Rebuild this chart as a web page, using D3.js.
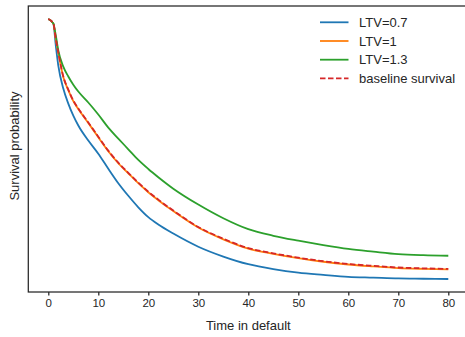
<!DOCTYPE html>
<html><head><meta charset="utf-8">
<script src="https://cdn.jsdelivr.net/npm/d3@7"></script>
<style>html,body{margin:0;padding:0;background:#fff;}svg{display:block;font-family:"Liberation Sans",Arial,sans-serif;}</style>
</head><body><svg id="chart" width="465" height="337"></svg>
<script>
const times = [0,1,1.5,2,3,4,5,6,8,10,12,14,16,18,20,22,25,30,35,40,45,50,55,60,65,70,75,80];
const ltv07 = [1.000,0.984,0.903,0.830,0.746,0.691,0.647,0.611,0.556,0.508,0.453,0.400,0.354,0.312,0.276,0.249,0.216,0.168,0.132,0.104,0.086,0.073,0.065,0.058,0.055,0.052,0.051,0.050];
const ltv1  = [1.000,0.984,0.927,0.876,0.788,0.740,0.700,0.671,0.620,0.568,0.517,0.473,0.436,0.400,0.367,0.338,0.298,0.238,0.195,0.161,0.142,0.126,0.113,0.103,0.096,0.090,0.087,0.085];
const ltv13 = [1.000,0.984,0.940,0.885,0.826,0.790,0.760,0.735,0.695,0.651,0.603,0.563,0.524,0.485,0.452,0.422,0.380,0.322,0.272,0.232,0.208,0.190,0.174,0.160,0.150,0.141,0.137,0.135];
const baseline = [1.000,0.984,0.929,0.878,0.790,0.742,0.702,0.673,0.622,0.570,0.519,0.475,0.438,0.402,0.369,0.340,0.300,0.240,0.197,0.163,0.144,0.128,0.115,0.105,0.098,0.092,0.089,0.087];
const xTicks = [0,10,20,30,40,50,60,70,80];
const seriesNames = ["LTV=0.7","LTV=1","LTV=1.3","baseline survival"];
const seriesColors = ["#1f77b4","#ff7f0e","#2ca02c","#d62728"];

const svg = d3.select("#chart");
const L = 28.3, R = 468.3, T = 6, B = 292;
const x = d3.scaleLinear().domain([-4,84]).range([L,R]);
const y = d3.scaleLinear().domain([0.0025,1.0475]).range([B,T]);

const series = [ltv07, ltv1, ltv13, baseline];
const line = d3.line().x((d,i)=>x(times[i])).y(d=>y(d)).curve(d3.curveMonotoneX);
series.forEach((s,k)=>{
  svg.append("path").datum(s).attr("d",line).attr("fill","none")
    .attr("stroke",seriesColors[k]).attr("stroke-width",1.8)
    .attr("stroke-dasharray", k===3 ? "5.5,2.5" : null);
});

// frame
svg.append("rect").attr("x",L).attr("y",T).attr("width",R-L).attr("height",B-T)
  .attr("fill","none").attr("stroke","#262626").attr("stroke-width",1.25);

// x axis
const xAxis = d3.axisBottom(x).tickValues(xTicks).tickSize(3.5).tickPadding(3.5);
const gx = svg.append("g").attr("transform",`translate(0,${B})`).call(xAxis);
gx.select(".domain").remove();
gx.selectAll("line").attr("stroke","#262626").attr("stroke-width",1.25);
gx.selectAll("text").attr("fill","#262626").style("font-size","11.5px").style("font-family","Liberation Sans, Arial, sans-serif");

svg.append("text").attr("x",x(40)).attr("y",330).attr("text-anchor","middle")
  .attr("fill","#262626").style("font-size","13px").text("Time in default");
svg.append("text").attr("transform",`translate(19,146) rotate(-90)`).attr("text-anchor","middle")
  .attr("fill","#262626").style("font-size","13px").text("Survival probability");

// legend
const lg = svg.append("g");
seriesNames.forEach((n,k)=>{
  const yy = 22.3 + k*18.7;
  lg.append("line").attr("x1",320).attr("x2",348.5).attr("y1",yy).attr("y2",yy)
    .attr("stroke",seriesColors[k]).attr("stroke-width",1.8)
    .attr("stroke-dasharray", k===3 ? "5.5,2.5" : null);
  lg.append("text").attr("x",359).attr("y",yy).attr("dy","0.35em")
    .attr("fill","#262626").style("font-size","13px").text(n);
});
</script></body></html>
